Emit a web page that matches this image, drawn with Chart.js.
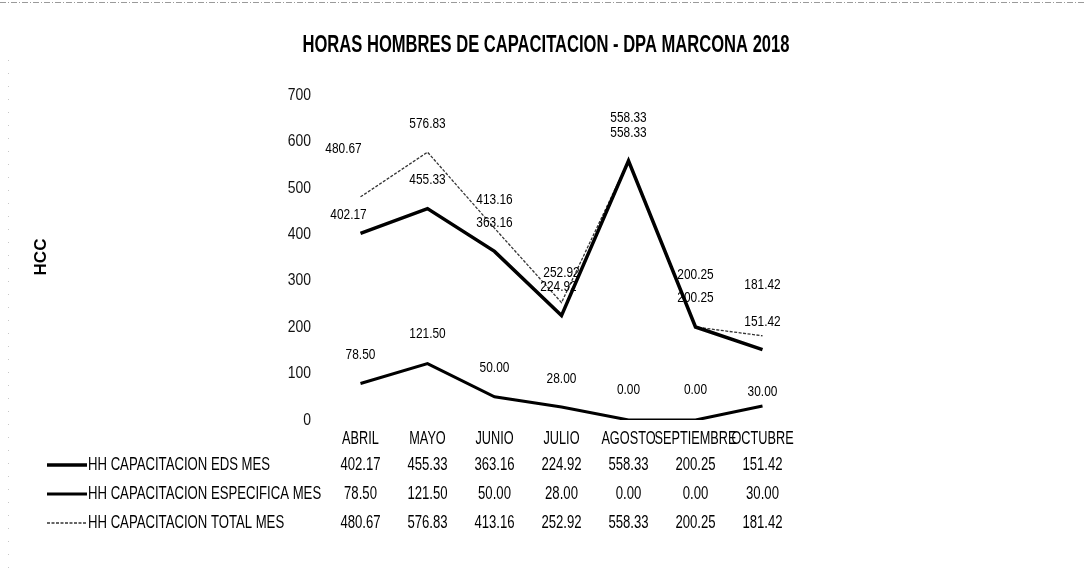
<!DOCTYPE html>
<html lang="es">
<head>
<meta charset="utf-8">
<title>Horas Hombres de Capacitacion - DPA Marcona 2018</title>
<script src="https://cdn.jsdelivr.net/npm/chart.js@4.4.1/dist/chart.umd.min.js"></script>
<style>
  html, body { margin: 0; padding: 0; background: #fff; }
  #hhChart { display: block; }
</style>
</head>
<body>
<canvas id="hhChart" width="1086" height="575"></canvas>
<script>
// Datos mensuales de capacitacion
const months = ["ABRIL", "MAYO", "JUNIO", "JULIO", "AGOSTO", "SEPTIEMBRE", "OCTUBRE"];
const edsMes = [402.17, 455.33, 363.16, 224.92, 558.33, 200.25, 151.42];
const especificaMes = [78.50, 121.50, 50.00, 28.00, 0.00, 0.00, 30.00];
const totalMes = [480.67, 576.83, 413.16, 252.92, 558.33, 200.25, 181.42];
const yTicks = [0, 100, 200, 300, 400, 500, 600, 700];

const seriesNames = [
  "HH CAPACITACION EDS MES",
  "HH CAPACITACION ESPECIFICA MES",
  "HH CAPACITACION TOTAL MES"
];

// desplazamiento de las etiquetas de valor respecto al punto (px)
const labelShift = [
  [[-12, -18], [0, -28], [0, -28], [-3, -28], [0, -28], [0, -29], [0, -28]],
  [[0, -28], [0, -29], [0, -29], [0, -28], [0, -30], [0, -30], [0, -14]],
  [[-17, -48], [0, -28], [0, -28], [0, -29], [0, -43], [0, -52], [0, -51]]
];

const SANS = "'Liberation Sans', Arial, sans-serif";

// escribe texto comprimido en horizontal (letra estrecha)
function squeezeText(c, text, x, y, factor) {
  c.save();
  c.translate(x, y);
  c.scale(factor, 1);
  c.fillText(text, 0, 0);
  c.restore();
}

document.addEventListener("DOMContentLoaded", function () {
  const ctx = document.getElementById("hhChart").getContext("2d");

  // titulo, ejes, etiquetas de valor y tabla de datos
  const extrasPlugin = {
    id: "extras",
    beforeDraw(chart) {
      const c = chart.ctx;
      c.save();
      c.fillStyle = "#fff";
      c.fillRect(0, 0, chart.width, chart.height);
      // borde superior del escaneo
      c.strokeStyle = "#9a9a9a";
      c.lineWidth = 1;
      c.setLineDash([6, 2, 1, 2]);
      c.beginPath();
      c.moveTo(0, 2.5);
      c.lineTo(chart.width, 2.5);
      c.stroke();
      c.strokeStyle = "#c8c8c8";
      c.setLineDash([1, 12]);
      c.beginPath();
      c.moveTo(8.5, 60);
      c.lineTo(8.5, chart.height);
      c.stroke();
      c.restore();
    },
    afterDatasetsDraw(chart) {
      const c = chart.ctx;
      const xs = chart.scales.x;
      const ys = chart.scales.y;
      c.save();
      c.fillStyle = "#000";
      c.textBaseline = "middle";

      // titulo comprimido
      const title = "HORAS HOMBRES DE CAPACITACION - DPA MARCONA 2018";
      c.font = "bold 24px " + SANS;
      c.textAlign = "center";
      squeezeText(c, title, 546, 45, 487 / c.measureText(title).width);

      // titulo del eje vertical
      c.save();
      c.translate(41, 257);
      c.rotate(-Math.PI / 2);
      c.font = "bold 17px " + SANS;
      c.fillText("HCC", 0, 0);
      c.restore();

      // marcas del eje Y
      c.font = "17px " + SANS;
      c.fillStyle = "#111";
      c.textAlign = "right";
      yTicks.forEach(v => {
        squeezeText(c, String(v), 311, ys.getPixelForValue(v), 0.82);
      });

      // categorias
      c.font = "19px " + SANS;
      c.fillStyle = "#000";
      c.textAlign = "center";
      months.forEach((m, i) => {
        squeezeText(c, m, xs.getPixelForValue(i), 439, 0.67);
      });

      // etiquetas de valor
      c.font = "14px " + SANS;
      chart.data.datasets.forEach((ds, di) => {
        ds.data.forEach((v, i) => {
          const x = xs.getPixelForValue(i) + labelShift[di][i][0];
          const y = ys.getPixelForValue(v) + labelShift[di][i][1];
          squeezeText(c, v.toFixed(2), x, y, 0.85);
        });
      });

      // tabla de datos con leyenda
      const rowY = [465, 494, 523];
      c.font = "18px " + SANS;
      chart.data.datasets.forEach((ds, di) => {
        const y = rowY[di];
        c.strokeStyle = ds.borderColor;
        c.lineWidth = ds.borderWidth;
        c.setLineDash(ds.borderDash || []);
        c.beginPath();
        c.moveTo(47, y);
        c.lineTo(87, y);
        c.stroke();
        c.setLineDash([]);
        c.textAlign = "left";
        squeezeText(c, seriesNames[di], 88, y, 0.73);
        c.textAlign = "center";
        ds.data.forEach((v, i) => {
          squeezeText(c, v.toFixed(2), xs.getPixelForValue(i), y, 0.73);
        });
      });
      c.restore();
    }
  };

  new Chart(ctx, {
    type: "line",
    data: {
      labels: months,
      datasets: [
        {
          label: seriesNames[0],
          data: edsMes,
          borderColor: "#000",
          borderWidth: 3.5,
          pointRadius: 0,
          tension: 0
        },
        {
          label: seriesNames[1],
          data: especificaMes,
          borderColor: "#000",
          borderWidth: 3,
          pointRadius: 0,
          tension: 0
        },
        {
          label: seriesNames[2],
          data: totalMes,
          borderColor: "#333",
          borderWidth: 1.3,
          borderDash: [3, 1.5],
          pointRadius: 0,
          tension: 0
        }
      ]
    },
    options: {
      responsive: false,
      animation: false,
      events: [],
      layout: { padding: { left: 0, right: 290, top: 95, bottom: 0 } },
      plugins: {
        legend: { display: false },
        tooltip: { enabled: false },
        title: { display: false }
      },
      scales: {
        x: {
          offset: true,
          grid: { display: false, drawTicks: false },
          border: { display: false },
          ticks: { display: false, autoSkip: false },
          afterFit: (s) => { s.height = 155; }
        },
        y: {
          min: 0,
          max: 700,
          grid: { display: false, drawTicks: false },
          border: { display: false },
          afterBuildTicks: (s) => { s.ticks = yTicks.map(v => ({ value: v })); },
          ticks: { display: false },
          afterFit: (s) => { s.width = 327; }
        }
      }
    },
    plugins: [extrasPlugin]
  });
});
</script>
</body>
</html>
